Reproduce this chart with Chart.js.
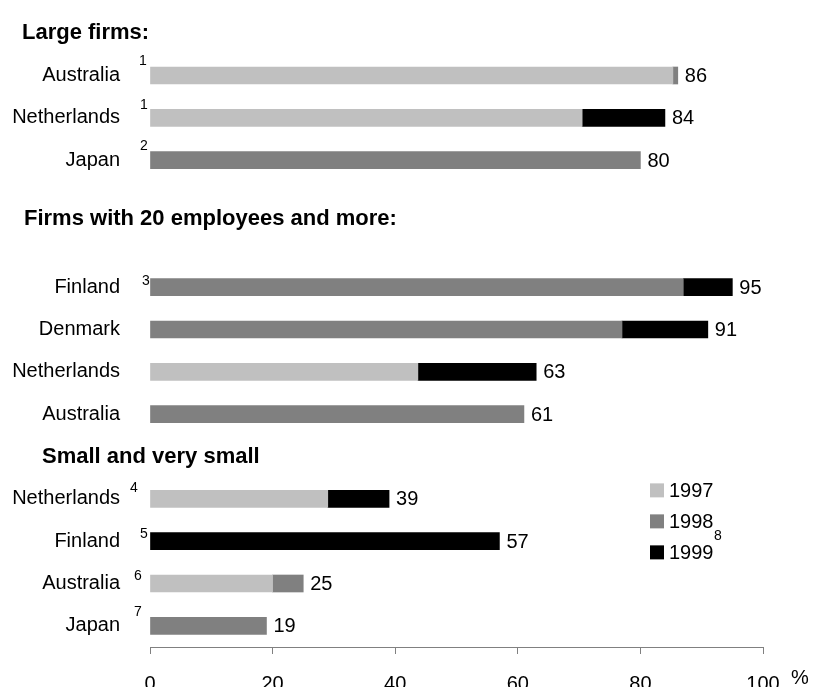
<!DOCTYPE html>
<html><head><meta charset="utf-8">
<script src="https://cdn.jsdelivr.net/npm/chart.js@4/dist/chart.umd.min.js"></script>
<style>
html,body{margin:0;padding:0;background:#fff;overflow:hidden;}
#wrap{position:relative;width:827px;height:714px;}
</style></head><body>
<div id="wrap"><canvas id="c"></canvas></div>
<script>
// ---- data ----
const categories = ["", "Australia", "Netherlands", "Japan", "", "", "Finland", "Denmark", "Netherlands", "Australia", "", "Netherlands", "Finland", "Australia", "Japan"];
const footnotes  = ["", "1", "1", "2", "", "", "3", "", "", "", "", "4", "5", "6", "7"];
const values1997 = [null, 85.3, 70.5, null, null, null, null, null, 43.7, null, null, 29, null, 20, null];
const values1998 = [null, 0.8, null, 80, null, null, 87, 77, null, 61, null, null, null, 5, 19];
const values1999 = [null, null, 13.5, null, null, null, 8, 14, 19.3, null, null, 10, 57, null, null];
const totals     = ["", "86", "84", "80", "", "", "95", "91", "63", "61", "", "39", "57", "25", "19"];
const seriesNames = ["1997", "1998", "1999"];
const legendNote = "8";
const sectionTitles = ["Large firms:", "Firms with 20 employees and more:", "Small and very small"];
const sectionRows = [0, 4.4, 10];
const xTickValues = [0, 20, 40, 60, 80, 100];
const unitLabel = "%";

// ---- style ----
const FONT = '"Liberation Sans", Arial, Helvetica, sans-serif';
const colors = ["#C0C0C0", "#808080", "#000000"];
const headerX = [22, 24, 42];
const footOffsets = {1:[-7,-14], 2:[-6,-13], 3:[-6,-14], 6:[-4,-6], 11:[-16,-11], 12:[-6,-7], 13:[-12,-7], 14:[-12,-14]};

const overlay = {
  id: 'overlay',
  afterDatasetsDraw(chart) {
    const {ctx, chartArea, scales: {x, y}} = chart;
    ctx.save();
    ctx.fillStyle = '#000';
    ctx.textBaseline = 'middle';
    // section headers
    ctx.textAlign = 'left';
    ctx.font = 'bold 22px ' + FONT;
    sectionTitles.forEach((t, i) => ctx.fillText(t, headerX[i], y.getPixelForValue(sectionRows[i])));
    // totals
    ctx.font = '20px ' + FONT;
    categories.forEach((c, i) => {
      if (!totals[i]) return;
      const sum = (values1997[i] || 0) + (values1998[i] || 0) + (values1999[i] || 0);
      ctx.fillText(totals[i], x.getPixelForValue(sum) + 7, y.getPixelForValue(i) + 1);
    });
    // footnotes
    ctx.font = '14px ' + FONT;
    ctx.textAlign = 'center';
    footnotes.forEach((f, i) => {
      if (!f) return;
      const o = footOffsets[i] || [-6, -12];
      ctx.fillText(f, chartArea.left + o[0], y.getPixelForValue(i) + o[1]);
    });
    // legend
    const lx = chartArea.right - 113;
    const ly0 = y.getPixelForValue(10.8);
    seriesNames.forEach((s, k) => {
      const cy = ly0 + k * 31;
      ctx.fillStyle = colors[k];
      ctx.fillRect(lx, cy - 7, 14, 14);
      ctx.fillStyle = '#000';
      ctx.textAlign = 'left';
      ctx.font = '20px ' + FONT;
      ctx.fillText(s, lx + 19, cy + 1);
    });
    ctx.font = '14px ' + FONT;
    ctx.textAlign = 'center';
    ctx.fillText(legendNote, lx + 68, ly0 + 46);
    // unit
    ctx.font = '20px ' + FONT;
    ctx.fillText(unitLabel, chartArea.right + 37, x.top + 31);
    ctx.restore();
  }
};

new Chart(document.getElementById('c'), {
  type: 'bar',
  data: {
    labels: categories,
    datasets: [
      {label: seriesNames[0], data: values1997, backgroundColor: colors[0], barThickness: 17, borderWidth: 0},
      {label: seriesNames[1], data: values1998, backgroundColor: colors[1], barThickness: 17, borderWidth: 0},
      {label: seriesNames[2], data: values1999, backgroundColor: colors[2], barThickness: 17, borderWidth: 0}
    ]
  },
  options: {
    indexAxis: 'y',
    responsive: true,
    maintainAspectRatio: false,
    animation: false,
    layout: {padding: {top: 9, right: 64, left: 0, bottom: 0}},
    plugins: {legend: {display: false}, tooltip: {enabled: false}},
    scales: {
      x: {
        stacked: true, min: 0, max: 100,
        afterBuildTicks: (s) => { s.ticks = xTickValues.map(v => ({value: v})); },
        grid: {drawOnChartArea: false, drawTicks: true, tickLength: 7, color: '#808080'},
        border: {display: true, color: '#808080', width: 1},
        ticks: {padding: 18, color: '#000', font: {family: FONT, size: 20}, maxRotation: 0}
      },
      y: {
        stacked: true,
        grid: {display: false, drawTicks: true, tickLength: 30},
        border: {display: false},
        afterFit: (s) => { s.width = 150; },
        ticks: {padding: 0, color: '#000', autoSkip: false, font: {family: FONT, size: 20}}
      }
    }
  },
  plugins: [overlay]
});
</script>
</body></html>
